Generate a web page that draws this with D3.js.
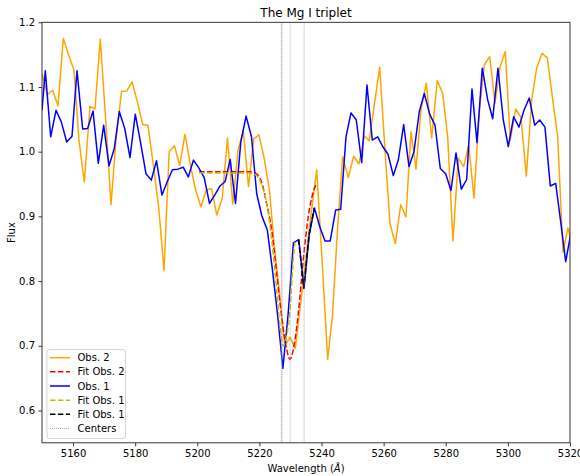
<!DOCTYPE html>
<html><head><meta charset="utf-8">
<script src="https://cdn.jsdelivr.net/npm/d3@7/dist/d3.min.js"></script>
<style>
html,body{margin:0;padding:0;background:#fff;}
svg text{font-family:"DejaVu Sans",sans-serif;}
</style></head>
<body><svg id="c" width="580" height="476"></svg>
<script>
const obs2Wl = [5150.0,5151.71,5153.44,5155.15,5156.86,5158.60,5160.30,5161.91,5163.62,5165.45,5167.06,5168.77,5170.51,5172.22,5173.82,5175.60,5177.30,5179.01,5180.71,5182.42,5184.10,5185.83,5187.60,5189.28,5190.95,5192.66,5194.33,5196.04,5197.75,5199.49,5201.19,5202.90,5204.57,5206.28,5208.02,5209.72,5211.43,5213.14,5214.81,5216.49,5218.19,5219.86,5221.57,5223.25,5224.82,5226.47,5228.17,5229.88,5231.55,5233.26,5234.96,5236.67,5238.44,5240.21,5241.98,5243.49,5245.20,5246.81,5248.62,5250.35,5252.06,5253.77,5255.38,5257.12,5258.73,5260.43,5262.04,5263.75,5265.49,5267.19,5268.80,5270.41,5272.02,5273.73,5275.47,5277.27,5279.01,5280.62,5282.32,5284.03,5285.77,5287.38,5289.09,5290.79,5292.40,5294.14,5295.85,5297.46,5299.16,5300.77,5302.51,5304.22,5305.93,5307.66,5309.27,5310.98,5312.69,5314.30,5316.04,5317.74,5319.35,5320.96];
const obs2Flux = [1.121,1.088,1.095,1.071,1.175,1.149,1.126,1.018,0.953,1.070,1.066,1.174,1.049,0.918,1.018,1.093,1.094,1.108,1.077,1.042,1.041,0.980,0.913,0.816,1.000,1.009,0.979,1.027,0.980,0.940,0.915,0.941,0.943,0.902,0.928,1.021,0.919,1.003,1.032,0.946,1.020,1.026,0.989,0.940,0.853,0.781,0.700,0.713,0.696,0.765,0.835,0.905,0.972,0.830,0.679,0.745,0.884,0.992,0.960,0.993,0.981,1.024,1.017,1.077,1.130,1.003,0.889,0.858,0.918,0.899,1.031,0.973,1.065,1.106,1.021,1.110,1.090,1.023,0.862,0.990,0.977,1.010,0.928,1.062,1.134,1.147,1.075,1.131,1.155,1.018,1.066,1.053,0.962,1.080,1.129,1.152,1.145,1.085,1.023,0.845,0.882,0.850];

const obs1Wl = [5150.0,5151.06,5152.80,5154.51,5156.21,5157.95,5159.66,5161.27,5163.10,5164.71,5166.42,5168.13,5169.86,5171.57,5173.28,5174.89,5176.63,5178.33,5180.04,5181.78,5183.48,5185.19,5186.86,5188.63,5190.34,5192.01,5193.72,5195.46,5197.10,5198.78,5200.48,5202.22,5203.93,5205.60,5207.31,5208.98,5210.59,5212.30,5214.01,5215.71,5217.45,5219.13,5220.77,5222.54,5224.18,5225.85,5227.56,5229.27,5230.94,5232.68,5234.35,5236.06,5237.73,5239.44,5241.11,5242.79,5244.56,5246.17,5247.88,5249.49,5251.19,5252.93,5254.64,5256.34,5258.08,5259.69,5261.40,5263.11,5264.72,5266.45,5268.16,5269.77,5271.48,5273.09,5274.82,5276.53,5278.24,5279.97,5281.68,5283.29,5285.00,5286.73,5288.44,5290.05,5291.76,5293.50,5295.11,5296.81,5298.52,5300.13,5301.87,5303.57,5305.18,5306.89,5308.63,5310.24,5311.94,5313.65,5315.39,5317.00,5318.61,5320.32];
const obs1Flux = [1.064,1.125,1.023,1.064,1.046,1.015,1.024,1.125,1.035,1.036,1.063,0.982,1.041,0.978,1.005,1.062,1.036,0.991,1.058,1.013,0.966,0.956,0.986,0.933,0.954,0.972,0.973,0.976,0.961,0.987,0.975,0.960,0.920,0.933,0.947,0.954,0.988,0.920,1.015,1.055,1.023,0.935,0.901,0.879,0.818,0.748,0.665,0.750,0.859,0.864,0.789,0.872,0.913,0.884,0.862,0.862,0.910,0.911,1.023,1.060,1.049,0.983,1.103,1.018,1.023,1.008,0.996,0.963,0.987,1.042,0.977,1.000,1.062,1.090,1.058,1.041,0.974,0.966,0.940,0.998,0.942,0.957,1.097,1.014,1.129,1.080,1.051,1.129,1.049,1.008,1.054,1.038,1.064,1.083,1.041,1.049,1.038,0.947,0.951,0.892,0.830,0.875];

const fit2Wl = [5200.6,5210.0,5216.5,5218.6,5220.7,5222.3,5223.95,5225.56,5227.17,5228.78,5229.85,5230.91,5232.52,5234.13,5235.74,5237.35,5238.44];
const fit2Flux = [0.969,0.969,0.969,0.967,0.953,0.920,0.879,0.812,0.745,0.694,0.679,0.694,0.750,0.833,0.900,0.938,0.951];

const fit1aWl = [5200.6,5210.0,5216.5,5218.03,5219.64,5221.25,5222.54,5223.95,5225.56,5226.63,5227.69,5228.78,5229.85,5230.91,5231.45];
const fit1aFlux = [0.967,0.967,0.967,0.966,0.960,0.941,0.915,0.864,0.786,0.730,0.700,0.716,0.755,0.833,0.860];

const fit1bWl = [5232.6,5234.3,5236.0,5237.65];
const fit1bFlux = [0.864,0.789,0.872,0.913];

const centers = [5227.05,5227.3,5229.9,5234.4];
const xTicks = [5160,5180,5200,5220,5240,5260,5280,5300,5320];
const yTicks = [0.6,0.7,0.8,0.9,1.0,1.1,1.2];
const legendLabels = ["Obs. 2","Fit Obs. 2","Obs. 1","Fit Obs. 1","Fit Obs. 1","Centers"];

const svg = d3.select("#c");
const L=42, R=570, T=22.3, B=442.8;
const x = d3.scaleLinear().domain([5150,5320]).range([L,R]);
const y = d3.scaleLinear().domain([0.55,1.2]).range([B,T]);

svg.append("defs").append("clipPath").attr("id","clip")
  .append("rect").attr("x",L).attr("y",T).attr("width",R-L).attr("height",B-T);

const g = svg.append("g").attr("clip-path","url(#clip)");
const mk = (wl,fl)=>wl.map((w,i)=>[w,fl[i]]);
const line = d3.line().x(d=>x(d[0])).y(d=>y(d[1]));
const smooth = d3.line().x(d=>x(d[0])).y(d=>y(d[1])).curve(d3.curveMonotoneX);

const styles = [
  {c:"#FFA500", dash:null},
  {c:"#FF0000", dash:"5.5,2.4"},
  {c:"#0000FF", dash:null},
  {c:"#BFBF00", dash:"5.5,2.4"},
  {c:"#000000", dash:"5.5,2.4"},
  {c:"#999999", dash:"1,1"}
];

function path(data, gen, s, w){
  g.append("path").datum(data).attr("d",gen).attr("fill","none")
   .attr("stroke",s.c).attr("stroke-width",w)
   .attr("stroke-dasharray",s.dash).attr("stroke-linejoin","round");
}
path(mk(obs2Wl,obs2Flux), line, styles[0], 1.5);
path(mk(fit2Wl,fit2Flux), smooth, styles[1], 1.5);
path(mk(obs1Wl,obs1Flux), line, styles[2], 1.5);
path(mk(fit1aWl,fit1aFlux), smooth, styles[3], 1.5);
path(mk(fit1bWl,fit1bFlux), line, styles[4], 1.5);

g.selectAll("line.cen").data(centers).enter().append("line")
  .attr("x1",d=>x(d)).attr("x2",d=>x(d)).attr("y1",T).attr("y2",B)
  .attr("stroke","#999").attr("stroke-width",0.8).attr("stroke-dasharray","1,1");

// axes
const xa = svg.append("g").attr("transform",`translate(0,${B})`)
  .call(d3.axisBottom(x).tickValues(xTicks).tickSize(3.5).tickPadding(3.5).tickFormat(d3.format("d")));
const ya = svg.append("g").attr("transform",`translate(${L},0)`)
  .call(d3.axisLeft(y).tickValues(yTicks).tickSize(3.5).tickPadding(3.5).tickFormat(d3.format(".1f")));
[xa,ya].forEach(a=>{
  a.select(".domain").remove();
  a.selectAll("text").attr("font-size","10px").attr("fill","#000").attr("font-family","DejaVu Sans");
  a.selectAll("line").attr("stroke","#000").attr("stroke-width",0.8);
});
svg.append("rect").attr("x",L).attr("y",T).attr("width",R-L).attr("height",B-T)
  .attr("fill","none").attr("stroke","#222").attr("stroke-width",0.9);

svg.append("text").attr("x",(L+R)/2).attr("y",17).attr("text-anchor","middle")
  .attr("font-size","12px").text("The Mg I triplet");
const xl = svg.append("text").attr("x",(L+R)/2).attr("y",472).attr("text-anchor","middle").attr("font-size","10px");
xl.append("tspan").text("Wavelength (");
xl.append("tspan").attr("font-style","italic").text("Å");
xl.append("tspan").text(")");
svg.append("text").attr("transform",`translate(15,${(T+B)/2}) rotate(-90)`).attr("text-anchor","middle")
  .attr("font-size","10px").text("Flux");

// legend
const lg = svg.append("g");
lg.append("rect").attr("x",47).attr("y",349.5).attr("width",78.5).attr("height",89).attr("rx",2.5)
  .attr("fill","#fff").attr("fill-opacity",0.8).attr("stroke","#ccc").attr("stroke-width",0.8);
legendLabels.forEach((lab,i)=>{
  const yy = 357.7 + i*14.15;
  const s = styles[i];
  lg.append("line").attr("x1",50).attr("x2",70).attr("y1",yy).attr("y2",yy)
    .attr("stroke",s.c).attr("stroke-width",i===5?0.8:1.5).attr("stroke-dasharray",s.dash);
  lg.append("text").attr("x",77.5).attr("y",yy+3.6).attr("font-size","10px").text(lab);
});
</script></body></html>
